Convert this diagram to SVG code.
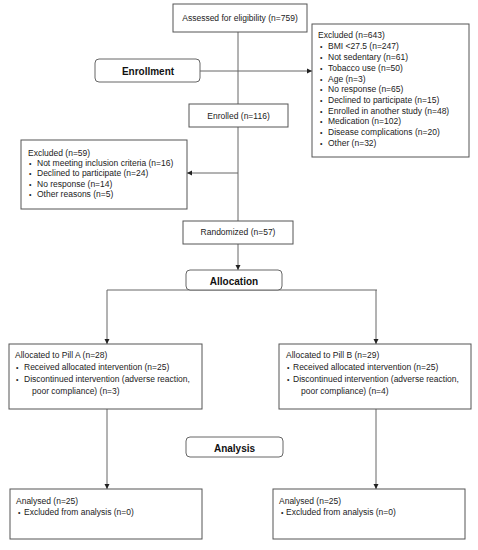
<svg xmlns="http://www.w3.org/2000/svg" width="478" height="550" viewBox="0 0 478 550">
<defs>
<marker id="ah" markerWidth="6" markerHeight="6" refX="5" refY="3" orient="auto" markerUnits="userSpaceOnUse">
<path d="M0,0.5 L5,3 L0,5.5 Z" fill="#222"/>
</marker>
<style>
.box{fill:#fff;stroke:#555;stroke-width:1}
.stage{fill:#fff;stroke:#666;stroke-width:1}
.t{font-family:"Liberation Sans",Arial,sans-serif;font-size:8.5px;fill:#222}
.c{text-anchor:middle}
.b{font-family:"Liberation Sans",Arial,sans-serif;font-size:10px;font-weight:bold;fill:#111;text-anchor:middle}
.ln{stroke:#666;stroke-width:1;fill:none}
.ar{stroke:#666;stroke-width:1;fill:none;marker-end:url(#ah)}
.bu{font-size:7px}
</style>
</defs>
<rect width="478" height="550" fill="#fff"/>
<g id="connectors">
<line class="ln" x1="238" y1="32" x2="238" y2="104"/>
<line class="ar" x1="200" y1="71" x2="312" y2="71"/>
<line class="ln" x1="238" y1="127" x2="238" y2="221"/>
<line class="ar" x1="238" y1="173" x2="187" y2="173"/>
<line class="ar" x1="238" y1="244" x2="238" y2="270"/>
<line class="ln" x1="107" y1="290" x2="377" y2="290"/>
<line class="ar" x1="107" y1="290" x2="107" y2="344"/>
<line class="ar" x1="376" y1="290" x2="376" y2="344"/>
<line class="ar" x1="107" y1="409" x2="107" y2="489"/>
<line class="ar" x1="376" y1="409" x2="376" y2="489"/>
</g>
<g id="assessed">
<rect class="box" x="173" y="4" width="134" height="28"/>
<text class="t c" x="240" y="21">Assessed for eligibility (n=759)</text>
</g>
<g id="enrollment">
<rect class="stage" x="95" y="59" width="105" height="23" rx="4"/>
<text class="b" x="148" y="75">Enrollment</text>
</g>
<g id="excluded643">
<rect class="box" x="312" y="24" width="157" height="133"/>
<text class="t" x="318" y="38">Excluded (n=643)</text>
<text class="t"><tspan class="bu" x="320" y="49">•</tspan><tspan x="328" y="49">BMI &lt;27.5 (n=247)</tspan></text>
<text class="t"><tspan class="bu" x="320" y="60">•</tspan><tspan x="328" y="60">Not sedentary (n=61)</tspan></text>
<text class="t"><tspan class="bu" x="320" y="70.5">•</tspan><tspan x="328" y="70.5">Tobacco use (n=50)</tspan></text>
<text class="t"><tspan class="bu" x="320" y="81.5">•</tspan><tspan x="328" y="81.5">Age (n=3)</tspan></text>
<text class="t"><tspan class="bu" x="320" y="92">•</tspan><tspan x="328" y="92">No response (n=65)</tspan></text>
<text class="t"><tspan class="bu" x="320" y="102.5">•</tspan><tspan x="328" y="102.5">Declined to participate (n=15)</tspan></text>
<text class="t"><tspan class="bu" x="320" y="113.5">•</tspan><tspan x="328" y="113.5">Enrolled in another study (n=48)</tspan></text>
<text class="t"><tspan class="bu" x="320" y="124">•</tspan><tspan x="328" y="124">Medication (n=102)</tspan></text>
<text class="t"><tspan class="bu" x="320" y="134.5">•</tspan><tspan x="328" y="134.5">Disease complications (n=20)</tspan></text>
<text class="t"><tspan class="bu" x="320" y="145.5">•</tspan><tspan x="328" y="145.5">Other (n=32)</tspan></text>
</g>
<g id="enrolled">
<rect class="box" x="189" y="104" width="99" height="23"/>
<text class="t c" x="238.5" y="119">Enrolled (n=116)</text>
</g>
<g id="excluded59">
<rect class="box" x="21" y="140" width="166" height="69"/>
<text class="t" x="28" y="156">Excluded (n=59)</text>
<text class="t"><tspan class="bu" x="29" y="166">•</tspan><tspan x="37" y="166">Not meeting inclusion criteria (n=16)</tspan></text>
<text class="t"><tspan class="bu" x="29" y="176">•</tspan><tspan x="37" y="176">Declined to participate (n=24)</tspan></text>
<text class="t"><tspan class="bu" x="29" y="186.5">•</tspan><tspan x="37" y="186.5">No response (n=14)</tspan></text>
<text class="t"><tspan class="bu" x="29" y="197">•</tspan><tspan x="37" y="197">Other reasons (n=5)</tspan></text>
</g>
<g id="randomized">
<rect class="box" x="183" y="221" width="110" height="23"/>
<text class="t c" x="238" y="235">Randomized (n=57)</text>
</g>
<g id="allocation">
<rect class="stage" x="186" y="270" width="96" height="20" rx="4"/>
<text class="b" x="234" y="285">Allocation</text>
</g>
<g id="pillA">
<rect class="box" x="9" y="344" width="193" height="65"/>
<text class="t" x="15" y="358">Allocated to Pill A (n=28)</text>
<text class="t"><tspan class="bu" x="16" y="370">•</tspan><tspan x="24" y="370">Received allocated intervention (n=25)</tspan></text>
<text class="t"><tspan class="bu" x="16" y="382">•</tspan><tspan x="24" y="382">Discontinued intervention (adverse reaction,</tspan></text>
<text class="t" x="32" y="394">poor compliance) (n=3)</text>
</g>
<g id="pillB">
<rect class="box" x="279" y="344" width="192" height="65"/>
<text class="t" x="286" y="358">Allocated to Pill B (n=29)</text>
<text class="t"><tspan class="bu" x="287" y="370">•</tspan><tspan x="293" y="370">Received allocated intervention (n=25)</tspan></text>
<text class="t"><tspan class="bu" x="287" y="382">•</tspan><tspan x="293" y="382">Discontinued intervention (adverse reaction,</tspan></text>
<text class="t" x="301" y="394">poor compliance) (n=4)</text>
</g>
<g id="analysis">
<rect class="stage" x="186" y="437" width="97" height="20" rx="4"/>
<text class="b" x="234.5" y="451.5">Analysis</text>
</g>
<g id="analysedA">
<rect class="box" x="10" y="489" width="192" height="50"/>
<text class="t" x="16" y="504">Analysed (n=25)</text>
<text class="t"><tspan class="bu" x="18" y="515">•</tspan><tspan x="24" y="515">Excluded from analysis (n=0)</tspan></text>
</g>
<g id="analysedB">
<rect class="box" x="273" y="489" width="192" height="50"/>
<text class="t" x="279" y="504">Analysed (n=25)</text>
<text class="t"><tspan class="bu" x="281" y="515">•</tspan><tspan x="286" y="515">Excluded from analysis (n=0)</tspan></text>
</g>
</svg>
